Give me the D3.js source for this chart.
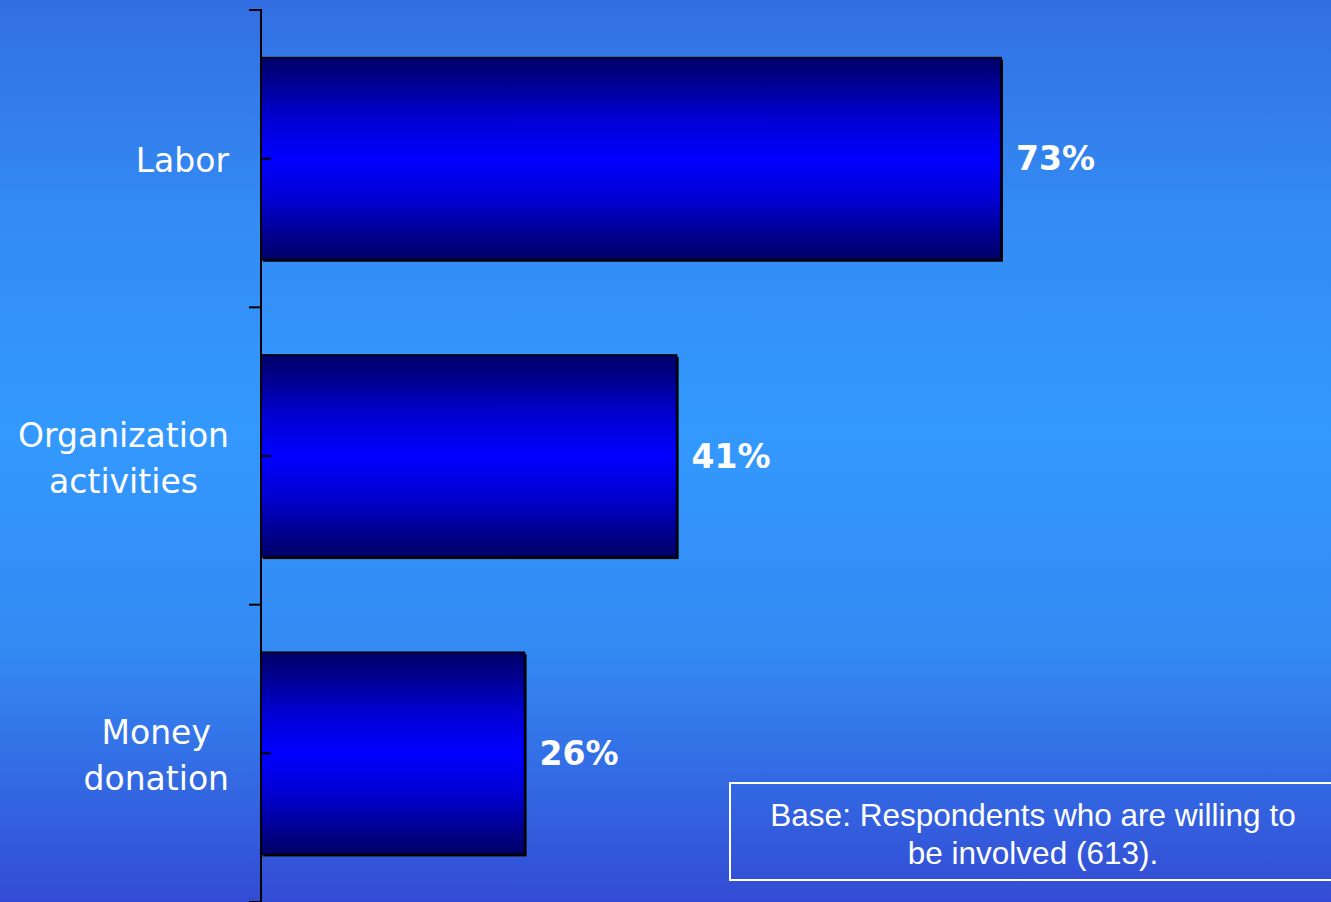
<!DOCTYPE html>
<html>
<head>
<meta charset="utf-8">
<script src="https://cdn.jsdelivr.net/npm/d3@7"></script>
<style>
html,body{margin:0;padding:0;overflow:hidden;}
svg{display:block;}
</style>
</head>
<body>
<svg id="chart" width="1331" height="902"></svg>
<script>
const categories = [["Labor"], ["Organization", "activities"], ["Money", "donation"]];
const categoryKeys = ["Labor", "Organization activities", "Money donation"];
const values = [73, 41, 26];
const valueLabels = ["73%", "41%", "26%"];
const noteLines = ["Base: Respondents who are willing to", "be involved (613)."];

const W = 1331, H = 902;
const svg = d3.select("#chart");
const defs = svg.append("defs");

const bg = defs.append("linearGradient").attr("id","bg").attr("x1",0).attr("y1",0).attr("x2",0).attr("y2",1);
[[0,"#336fe2"],[0.25,"#338cf5"],[0.48,"#3399ff"],[0.72,"#338af3"],[1,"#334bd4"]].forEach(s=>bg.append("stop").attr("offset",s[0]).attr("stop-color",s[1]));

const bar = defs.append("linearGradient").attr("id","bar").attr("x1",0).attr("y1",0).attr("x2",0).attr("y2",1);
[[0,"#000068"],[0.08,"#000080"],[0.3,"#0000d2"],[0.5,"#0000ff"],[0.7,"#0000d2"],[0.92,"#000080"],[1,"#000068"]].forEach(s=>bar.append("stop").attr("offset",s[0]).attr("stop-color",s[1]));

svg.append("rect").attr("width",W).attr("height",H).attr("fill","url(#bg)");

const x = d3.scaleLinear().domain([0,73]).range([261,1001]);
const y = d3.scaleBand().domain(categoryKeys).range([10,902]).paddingInner(0.32).paddingOuter(0.16);

const data = categoryKeys.map((k,i)=>({key:k, lines:categories[i], value:values[i], label:valueLabels[i]}));

svg.selectAll("rect.shadow").data(data).enter().append("rect")
  .attr("class","shadow")
  .attr("x", x(0)+2).attr("y", d=>y(d.key)+2)
  .attr("width", d=>x(d.value)-x(0)).attr("height", y.bandwidth())
  .attr("fill","#000");

svg.selectAll("rect.bar").data(data).enter().append("rect")
  .attr("class","bar")
  .attr("x", x(0)).attr("y", d=>y(d.key))
  .attr("width", d=>x(d.value)-x(0)).attr("height", y.bandwidth())
  .attr("fill","url(#bar)").attr("stroke","#000").attr("stroke-width",1.5);

svg.append("line").attr("x1",261).attr("x2",261).attr("y1",10).attr("y2",902).attr("stroke","#000").attr("stroke-width",2);
const bounds = d3.range(categoryKeys.length+1).map(i=>10 + i*((902-10)/categoryKeys.length));
svg.selectAll("line.major").data(bounds).enter().append("line")
  .attr("x1",249).attr("x2",262).attr("y1",d=>d).attr("y2",d=>d)
  .attr("stroke","#000").attr("stroke-width",2);
svg.selectAll("line.minor").data(data).enter().append("line")
  .attr("x1",261).attr("x2",271)
  .attr("y1",d=>y(d.key)+y.bandwidth()/2).attr("y2",d=>y(d.key)+y.bandwidth()/2)
  .attr("stroke","#000").attr("stroke-width",2);

const lineH = 46;
data.forEach(d=>{
  const cy = y(d.key)+y.bandwidth()/2 + 2;
  const g = svg.append("g");
  const n = d.lines.length;
  const texts = d.lines.map((t,j)=>g.append("text")
    .attr("y", cy + (j-(n-1)/2)*lineH)
    .attr("dominant-baseline","central")
    .attr("text-anchor","middle")
    .attr("font-family","'DejaVu Sans', sans-serif")
    .attr("font-size",33)
    .attr("fill","#fff").text(t));
  const maxW = d3.max(texts, t=>t.node().getComputedTextLength());
  texts.forEach(t=>t.attr("x", 229 - maxW/2));
});

svg.selectAll("text.val").data(data).enter().append("text")
  .attr("class","val")
  .attr("x", d=>x(d.value)+15)
  .attr("y", d=>y(d.key)+y.bandwidth()/2)
  .attr("dominant-baseline","central")
  .attr("font-family","'DejaVu Sans', sans-serif")
  .attr("font-weight","bold")
  .attr("font-size",33)
  .attr("fill","#fff").text(d=>d.label);

svg.append("rect").attr("x",730).attr("y",783).attr("width",640).attr("height",97)
  .attr("fill","none").attr("stroke","#fff").attr("stroke-width",2);
noteLines.forEach((t,i)=>{
  svg.append("text").attr("x",1033).attr("y",815+i*38)
    .attr("text-anchor","middle").attr("dominant-baseline","central")
    .attr("font-family","'Liberation Sans', sans-serif")
    .attr("font-size",31.5).attr("fill","#fff").text(t);
});
</script>
</body>
</html>
